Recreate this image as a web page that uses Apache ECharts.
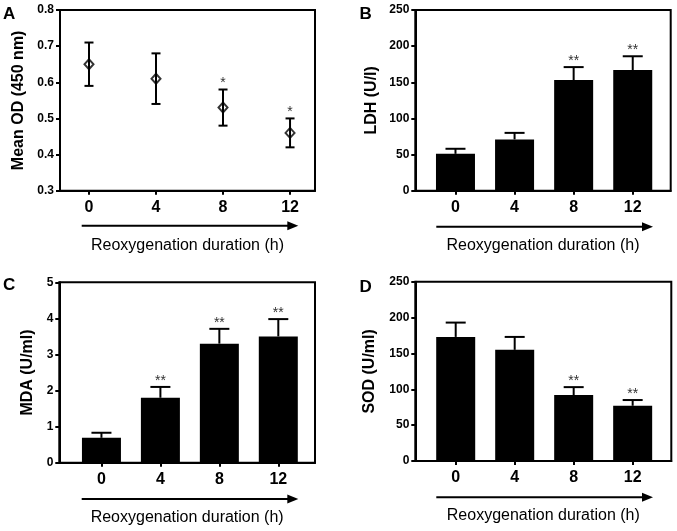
<!DOCTYPE html>
<html>
<head>
<meta charset="utf-8">
<script src="https://cdn.jsdelivr.net/npm/echarts@6/dist/echarts.min.js"></script>
<style>
html,body{margin:0;padding:0;background:#fff;}
#main{width:677px;height:531px;}
</style>
</head>
<body>
<div id="main"></div>
<script>
// ---- data ----
const hours = [0, 4, 8, 12];
const hourLabels = ['0', '4', '8', '12'];

const odMean = [0.65, 0.61, 0.53, 0.46];
const odErr  = [0.06, 0.07, 0.05, 0.04];
const odSig  = ['', '', '*', '*'];

const ldhMean = [51, 71, 153, 167];
const ldhErr  = [7, 9, 18, 19];
const ldhSig  = ['', '', '**', '**'];

const mdaMean = [0.69, 1.8, 3.3, 3.5];
const mdaErr  = [0.14, 0.3, 0.41, 0.48];
const mdaSig  = ['', '**', '**', '**'];

const sodMean = [173, 155, 92, 77];
const sodErr  = [20, 18, 11, 8];
const sodSig  = ['', '', '**', '**'];

const xTitle = 'Reoxygenation duration (h)';
const yTitles = ['Mean OD (450 nm)', 'LDH (U/l)', 'MDA (U/ml)', 'SOD (U/ml)'];
const panelLetters = ['A', 'B', 'C', 'D'];

// ---- layout / style ----
const FONT = '"Liberation Sans", Arial, sans-serif';
const grids = [
  {left: 60,    top: 10,    width: 255, height: 180.7},
  {left: 415.3, top: 10,    width: 255.4, height: 180.7},
  {left: 59.3,  top: 282.3, width: 255.7, height: 180.4},
  {left: 415.3, top: 281.7, width: 256, height: 179.3}
];
const xRanges = [[-1.73, 13.49], [-2.72, 14.57], [-2.86, 14.49], [-2.74, 14.62]];
const yRanges = [[0.3, 0.8, 0.1], [0, 250, 50], [0, 5, 1], [0, 250, 50]];
const yNameGaps = [33, 36, 24, 38];

const chart = echarts.init(document.getElementById('main'), null, {renderer: 'canvas'});

const xAxes = grids.map((g, i) => ({
  type: 'value',
  gridIndex: i,
  min: xRanges[i][0],
  max: xRanges[i][1],
  splitLine: {show: false},
  axisLine: {onZero: false, lineStyle: {color: '#000', width: 2}},
  axisTick: {show: true, length: 4, lineStyle: {color: '#000', width: 2}, customValues: hours},
  axisLabel: {
    customValues: hours,
    formatter: v => hourLabels[hours.indexOf(v)] !== undefined ? hourLabels[hours.indexOf(v)] : '',
    color: '#000', fontSize: 16, fontWeight: 'bold', fontFamily: FONT, margin: 9
  },
  name: xTitle,
  nameLocation: 'middle',
  nameGap: 47,
  nameTextStyle: {color: '#000', fontSize: 16, fontFamily: FONT}
}));

const yAxes = grids.map((g, i) => ({
  type: 'value',
  gridIndex: i,
  min: yRanges[i][0],
  max: yRanges[i][1],
  interval: yRanges[i][2],
  splitLine: {show: false},
  axisLine: {show: true, onZero: false, lineStyle: {color: '#000', width: 2}},
  axisTick: {show: true, length: 4, lineStyle: {color: '#000', width: 2}},
  axisLabel: {
    color: '#000', fontSize: 12, fontWeight: 'bold', fontFamily: FONT, margin: 6,
    formatter: v => i === 0 ? v.toFixed(1) : String(Math.round(v))
  },
  name: yTitles[i],
  nameLocation: 'middle',
  nameGap: yNameGaps[i],
  nameTextStyle: {color: '#000', fontSize: 16, fontWeight: 'bold', fontFamily: FONT}
}));

function errorSeries(idx, means, errs, sigs, capW, both) {
  return {
    type: 'custom',
    xAxisIndex: idx, yAxisIndex: idx,
    z: 5,
    data: hours.map((h, k) => [h, both ? means[k] - errs[k] : means[k], means[k] + errs[k]]),
    encode: {x: 0, y: [1, 2]},
    renderItem: (params, api) => {
      const k = params.dataIndex;
      const x = api.value(0);
      const top = api.coord([x, api.value(2)]);
      const bot = api.coord([x, api.value(1)]);
      const st = {stroke: '#000', lineWidth: 2};
      const ch = [
        {type: 'line', shape: {x1: top[0], y1: top[1], x2: bot[0], y2: bot[1]}, style: st},
        {type: 'line', shape: {x1: top[0] - capW / 2, y1: top[1], x2: top[0] + capW / 2, y2: top[1]}, style: st}
      ];
      if (both) {
        ch.push({type: 'line', shape: {x1: bot[0] - capW / 2, y1: bot[1], x2: bot[0] + capW / 2, y2: bot[1]}, style: st});
      }
      if (sigs[k]) {
        ch.push({type: 'text', style: {
          text: sigs[k], x: top[0], y: top[1] + 1,
          align: 'center', verticalAlign: 'bottom',
          fontSize: 14, fontFamily: FONT, fill: '#333'
        }});
      }
      return {type: 'group', children: ch};
    }
  };
}

function barSeries(idx, means) {
  return {
    type: 'bar',
    xAxisIndex: idx, yAxisIndex: idx,
    barWidth: 39,
    itemStyle: {color: '#000'},
    data: hours.map((h, k) => [h, means[k]]),
    z: 2
  };
}

const series = [
  errorSeries(0, odMean, odErr, odSig, 9, true),
  {
    type: 'scatter',
    xAxisIndex: 0, yAxisIndex: 0,
    symbol: 'diamond',
    symbolSize: [9, 10],
    itemStyle: {color: 'rgba(255,255,255,0)', borderColor: '#000', borderWidth: 2},
    data: hours.map((h, k) => [h, odMean[k]]),
    z: 6
  },
  barSeries(1, ldhMean),
  errorSeries(1, ldhMean, ldhErr, ldhSig, 20, false),
  barSeries(2, mdaMean),
  errorSeries(2, mdaMean, mdaErr, mdaSig, 20, false),
  barSeries(3, sodMean),
  errorSeries(3, sodMean, sodErr, sodSig, 20, false)
];

// decorative arrows and panel letters
const arrows = [
  [81.7, 298.3, 225.7],
  [436.3, 653, 226.7],
  [81.7, 298.3, 499],
  [436.3, 653, 497.3]
];
const letterPos = [[3, 6], [359.5, 6], [3, 277], [359.5, 279]];
const graphic = [];
arrows.forEach(a => {
  graphic.push({type: 'line', shape: {x1: a[0], y1: a[2], x2: a[1] - 8, y2: a[2]}, style: {stroke: '#000', lineWidth: 2}});
  graphic.push({type: 'polygon', shape: {points: [[a[1] - 11, a[2] - 4.5], [a[1], a[2]], [a[1] - 11, a[2] + 4.5]]}, style: {fill: '#000'}});
});
panelLetters.forEach((L, i) => {
  graphic.push({type: 'text', left: letterPos[i][0], top: letterPos[i][1],
    style: {text: L, fontSize: 17, fontWeight: 'bold', fontFamily: FONT, fill: '#000'}});
});

chart.setOption({
  animation: false,
  backgroundColor: '#fff',
  grid: grids.map(g => Object.assign({show: true, borderColor: '#000', borderWidth: 2, backgroundColor: 'transparent', containLabel: false}, g)),
  xAxis: xAxes,
  yAxis: yAxes,
  series: series,
  graphic: graphic
});
</script>
</body>
</html>
